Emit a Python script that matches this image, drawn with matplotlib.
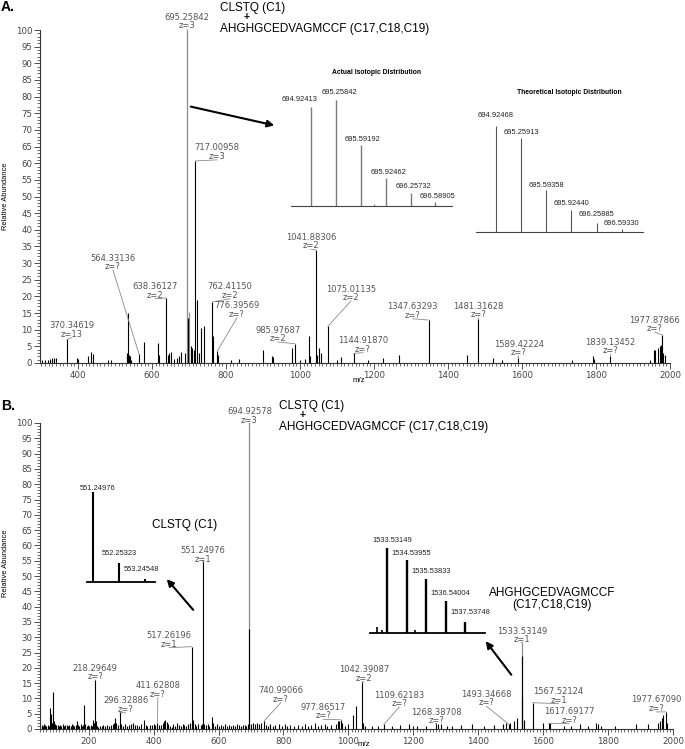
import matplotlib
matplotlib.use("Agg")
import matplotlib.pyplot as plt
import matplotlib.transforms as mtransforms
from matplotlib.patches import FancyArrowPatch
from matplotlib.ticker import MultipleLocator

W, H = 685, 749

# ---------------------------------------------------------------------------
# Panel A: full MS scan (m/z, relative abundance)
# ---------------------------------------------------------------------------
a_mz = [303, 311, 318, 324, 330, 336, 340, 370.35, 396, 400,
        428, 434, 441, 480, 489, 531, 533, 535, 537, 539,
        542, 564.33, 579, 617, 620, 638.36, 642, 645, 650, 660,
        667, 672, 678, 690, 697.8, 706, 709, 712, 717.01, 721,
        726, 731, 740, 762.41, 764, 776.40, 778, 813, 835, 900,
        925, 928, 977, 985.98, 1000, 1013, 1025, 1028, 1041.88, 1046,
        1050, 1057, 1075.01, 1099, 1112, 1144.92, 1184, 1225, 1268, 1347.63,
        1450, 1481.32, 1522, 1545, 1589.42, 1734, 1791, 1795, 1839.13, 1946,
        1956, 1960, 1968, 1972, 1975, 1977.88, 1981, 1986]
a_int = [1.0, 0.8, 1.0, 1.2, 1.5, 1.4, 1.6, 7.1, 1.5, 1.3,
         2.0, 3.3, 2.8, 1.0, 0.8, 2.0, 3.0, 15.0, 2.5, 2.0,
         1.0, 2.8, 6.2, 6.0, 2.5, 19.5, 2.5, 3.0, 3.2, 1.2,
         1.5, 2.0, 3.2, 3.0, 13.4, 5.0, 4.5, 4.0, 60.7, 18.9,
         3.0, 10.5, 11.0, 18.3, 8.0, 3.6, 2.5, 1.0, 1.2, 4.0,
         2.0, 1.8, 4.5, 5.8, 1.0, 1.2, 8.0, 2.0, 34.0, 2.5,
         4.5, 3.0, 11.0, 1.0, 1.7, 2.9, 1.0, 1.5, 2.3, 12.9,
         2.5, 13.1, 1.5, 1.0, 1.6, 1.0, 2.0, 1.3, 2.1, 1.0,
         4.0, 3.8, 4.5, 5.0, 5.5, 8.5, 3.0, 2.5]
a_gray_mz = [695.26, 700.5]
a_gray_int = [100, 15.4]

a_lab_mass = ["695.25842", "717.00958", "564.33136", "638.36127", "762.41150",
              "776.39569", "985.97687", "1041.88306", "1075.01135", "1144.91870",
              "1347.63293", "1481.31628", "1589.42224", "1839.13452", "1977.87866",
              "370.34619"]
a_lab_z = ["z=3", "z=3", "z=?", "z=2", "z=2", "z=?", "z=2", "z=2", "z=2", "z=?",
           "z=?", "z=?", "z=?", "z=?", "z=?", "z=13"]
a_lab_x = [694.3, 775.4, 494.3, 607.8, 810.5, 829.4, 940.2, 1029.4, 1137.5, 1170,
           1303.8, 1482.7, 1590.8, 1839.4, 1958.4, 382.7]
a_lab_y = [103.9, 64.6, 31.5, 22.9, 22.9, 17.2, 9.9, 37.7, 22.2, 6.7,
           16.9, 17.1, 5.7, 6.2, 12.9, 11.2]
a_lab_h = [100, 60.7, 2.8, 19.5, 18.3, 3.6, 5.8, 34.0, 11.0, 2.9,
           12.9, 13.1, 1.6, 2.1, 8.5, 7.1]

# isotopic distributions (inset A)
act_mz = [694.92413, 695.25842, 695.59192, 695.92462, 696.25732, 696.58905]
act_int = [93.4, 100, 57.5, 26.4, 12.3, 3.8]
theo_mz = [694.92468, 695.25913, 695.59358, 695.92440, 696.25885, 696.59330]
theo_int = [100, 88.7, 39.6, 20.8, 8.8, 2.8]

# ---------------------------------------------------------------------------
# Panel B
# ---------------------------------------------------------------------------
b_mz = [55, 58, 62, 66, 70, 74, 78, 81, 84, 87,
        90, 93, 96, 100, 104, 108, 112, 116, 120, 124,
        128, 132, 136, 140, 144, 148, 152, 156, 160, 163,
        167, 171, 175, 179, 183, 186, 190, 194, 198, 202,
        206, 210, 213, 215, 218.30, 221, 225, 230, 235, 240,
        245, 250, 256, 262, 268, 274, 279, 282, 285, 290,
        296.33, 299, 305, 312, 318, 325, 331, 337, 343, 349,
        355, 362, 369, 375, 381, 388, 394, 400, 405, 411.63,
        416, 422, 428, 433, 436, 440, 444, 450, 456, 461,
        467, 472, 478, 483, 489, 495, 500, 506, 512, 517.26,
        520, 526, 532, 538, 545, 549, 551.25, 554, 560, 566,
        572, 580, 584, 590, 596, 602, 608, 614, 620, 626,
        632, 638, 644, 650, 656, 662, 668, 674, 680, 686,
        690, 694.93, 700, 705, 712, 718, 724, 730, 740.99, 745,
        752, 760, 767, 775, 785, 795, 805, 812, 820, 832,
        845, 858, 866, 875, 885, 897, 906, 916, 928, 935,
        945, 962, 968, 972, 977.87, 980, 990, 1000, 1014, 1024,
        1042.39, 1045, 1052, 1072, 1090, 1109.62, 1135, 1160, 1186, 1200,
        1212, 1238, 1268.39, 1276, 1284, 1305, 1320, 1346, 1382, 1418,
        1450, 1475, 1487, 1493.35, 1497, 1510, 1520, 1533.53, 1535.5, 1541,
        1567.52, 1570, 1600, 1617.69, 1621, 1665, 1686, 1712, 1738, 1763,
        1768, 1778, 1820, 1887, 1922, 1955, 1960, 1965, 1970, 1977.67,
        1982]
b_int = [1.2, 1.0, 1.5, 1.2, 1.0, 1.3, 1.1, 7.0, 5.0, 2.0,
         12.0, 2.5, 1.5, 1.2, 1.4, 1.0, 1.3, 1.1, 1.5, 1.0,
         1.2, 1.4, 1.0, 1.3, 1.1, 1.6, 1.2, 1.0, 1.4, 2.5,
         1.2, 1.0, 1.5, 1.1, 1.3, 7.7, 1.5, 1.0, 1.2, 1.1,
         1.4, 1.0, 3.0, 2.0, 16.0, 2.5, 1.0, 0.8, 1.1, 0.9,
         1.2, 1.0, 1.3, 0.9, 1.4, 1.5, 2.0, 3.7, 2.0, 1.2,
         5.4, 1.5, 1.0, 1.5, 1.0, 1.3, 1.5, 2.0, 1.2, 1.4,
         1.1, 1.5, 3.0, 1.2, 1.0, 1.4, 1.2, 1.5, 1.3, 2.0,
         1.3, 1.2, 1.8, 2.5, 2.8, 2.2, 1.5, 1.0, 0.8, 1.5,
         1.0, 2.0, 1.2, 1.0, 1.5, 1.2, 1.0, 1.5, 2.0, 26.9,
         3.0, 1.5, 1.0, 1.5, 1.2, 1.5, 55.0, 1.5, 1.2, 1.5,
         1.0, 3.8, 2.0, 1.0, 1.5, 1.0, 1.3, 1.0, 1.5, 1.0,
         1.4, 1.1, 1.3, 1.0, 1.5, 1.2, 1.0, 1.4, 1.2, 1.0,
         1.5, 32.7, 1.5, 2.0, 1.5, 2.0, 1.5, 1.8, 2.7, 1.2,
         1.0, 1.5, 1.0, 1.2, 1.5, 1.0, 1.5, 1.0, 1.2, 1.0,
         1.2, 1.0, 1.5, 1.0, 1.2, 2.0, 1.0, 1.2, 1.5, 1.0,
         1.2, 1.5, 2.5, 2.5, 3.0, 2.0, 1.0, 1.5, 4.5, 7.4,
         15.5, 2.0, 1.0, 1.0, 1.0, 1.5, 1.0, 1.2, 1.5, 1.0,
         1.0, 1.0, 1.9, 1.5, 1.5, 1.0, 1.0, 1.2, 1.5, 1.0,
         1.2, 1.5, 2.0, 1.6, 2.0, 2.5, 3.5, 24.0, 10.2, 3.0,
         8.6, 2.0, 2.0, 1.8, 2.0, 1.0, 1.0, 1.5, 1.0, 2.0,
         1.5, 1.0, 1.0, 1.5, 1.5, 2.0, 2.5, 3.5, 4.5, 5.6,
         2.0]
b_gray_mz = [694.93, 1533.53]
b_gray_int = [100, 28.4]

b_lab_mass = ["694.92578", "551.24976", "517.26196", "218.29649", "296.32886",
              "411.62808", "740.99066", "977.86517", "1042.39087", "1109.62183",
              "1268.38708", "1493.34668", "1533.53149", "1567.52124", "1617.69177",
              "1977.67090"]
b_lab_z = ["z=3", "z=1", "z=1", "z=?", "z=?", "z=?", "z=?", "z=?", "z=2", "z=?",
           "z=?", "z=?", "z=1", "z=1", "z=?", "z=?"]
b_lab_x = [695.0, 552.6, 447.9, 219.9, 314.1, 413.0, 791.4, 922.7, 1047.8, 1156.9,
           1271.2, 1425.7, 1535.0, 1647.2, 1680.2, 1948.9]
b_lab_y = [103.7, 58.2, 30.5, 19.8, 9.2, 14.1, 12.5, 7.1, 19.3, 11.1,
           5.5, 11.3, 32.0, 12.2, 5.7, 9.5]
b_lab_h = [100, 55.0, 26.9, 16.0, 5.4, 2.0, 2.7, 3.0, 15.5, 1.5,
           1.9, 1.6, 28.4, 8.6, 1.8, 5.6]

# isotope clusters (insets B)
clstq_mz = [551.24976, 552.25323, 553.24548]
clstq_int = [100, 21, 3.7]
ahg_mz = [1533.53149, 1534.53955, 1535.53833, 1536.54004, 1537.53748]
ahg_int = [100, 85.8, 63, 37.4, 13]
ahg_small_mz = [1533.03, 1533.26, 1534.97]
ahg_small_int = [7, 3, 3.5]

LBL = "#555555"
LEAD = "#8a8a8a"
SANS = ["Liberation Sans", "DejaVu Sans"]

fig = plt.figure(figsize=(W / 100, H / 100), dpi=100)


def px_rect(x0, y0, x1, y1):
    return [x0 / W, 1 - y1 / H, (x1 - x0) / W, (y1 - y0) / H]


def ftext(x, y, s, **kw):
    fig.text(x / W, 1 - y / H, s, **kw)


def arrow(x0, y0, x1, y1):
    fig.add_artist(FancyArrowPatch((x0 / W, 1 - y0 / H), (x1 / W, 1 - y1 / H),
                                   transform=fig.transFigure, arrowstyle="-|>",
                                   mutation_scale=10, lw=1.5, color="black"))


def spectrum_axes(rect, xlim):
    ax = fig.add_axes(rect)
    ax.set_xlim(*xlim)
    ax.set_ylim(0, 100)
    for s in ["top", "right"]:
        ax.spines[s].set_visible(False)
    for s in ["left", "bottom"]:
        ax.spines[s].set_color("#333333")
        ax.spines[s].set_linewidth(0.8)
    ax.yaxis.set_major_locator(MultipleLocator(5))
    ax.yaxis.set_minor_locator(MultipleLocator(1))
    ax.xaxis.set_major_locator(MultipleLocator(200))
    ax.xaxis.set_minor_locator(MultipleLocator(10))
    ax.tick_params(which="major", length=4, width=0.6, color="#333333",
                   labelsize=6.2, labelcolor="#444444", pad=1.5)
    ax.tick_params(which="minor", length=2, width=0.5, color="#333333")
    return ax


def label_peaks(ax, masses, zs, lx, ly, lh):
    zt = mtransforms.offset_copy(ax.transData, fig=fig, y=-8.5, units="dots")
    for m, z, x, y, h in zip(masses, zs, lx, ly, lh):
        ax.text(x, y, m, ha="center", va="center", fontsize=6.0, color=LBL,
                clip_on=False)
        ax.text(x, y, z, ha="center", va="center", fontsize=6.0, color=LBL,
                transform=zt, clip_on=False)
        dx, dy = ax.transData.transform((x, y))
        sx, sy = ax.transData.inverted().transform((dx, dy - 12))
        ax.plot([sx, float(m)], [sy, h], color=LEAD, lw=0.6, clip_on=False)


def inset(rect, xlim, mz, inten, color, lw, base_lw, base_color):
    ax = fig.add_axes(rect)
    ax.set_xlim(*xlim)
    ax.set_ylim(0, 100)
    ax.patch.set_alpha(0)
    for s in ["top", "right", "left"]:
        ax.spines[s].set_visible(False)
    ax.spines["bottom"].set_linewidth(base_lw)
    ax.spines["bottom"].set_color(base_color)
    ax.set_xticks([])
    ax.set_yticks([])
    ax.vlines(mz, 0, inten, color=color, lw=lw)
    return ax


def inset_labels(ax, mz, inten, dxs, dys):
    for m, h, dx, dy in zip(mz, inten, dxs, dys):
        ax.annotate(f"{m:.5f}", (m, h), xytext=(dx * 0.72, dy * 0.72),
                    textcoords="offset points", ha="center", va="center",
                    fontsize=5.4, family=SANS, color="#222222",
                    annotation_clip=False)


# ---------------- Panel A ----------------
axA = spectrum_axes(px_rect(40, 30, 670, 363), (297, 2000))
axA.vlines(a_gray_mz, 0, a_gray_int, color="#8c8c8c", lw=0.9)
axA.vlines(a_mz, 0, a_int, color="black", lw=0.8)
label_peaks(axA, a_lab_mass, a_lab_z, a_lab_x, a_lab_y, a_lab_h)

insA1 = inset(px_rect(291, 100, 452, 206), (694.66, 696.81), act_mz, act_int,
              "#7a7a7a", 1.0, 0.8, "#444444")
insA1.vlines([695.77], 0, [2.0], color="#7a7a7a", lw=0.8)
inset_labels(insA1, act_mz, act_int, [-11, 4, 2, 3, 3, 2], [7, 7, 6, 6, 6, 5])

insA2 = inset(px_rect(476, 126, 643, 232), (694.664, 696.873), theo_mz, theo_int,
              "#555555", 0.8, 0.8, "#444444")
inset_labels(insA2, theo_mz, theo_int, [0] * 6, [10, 5, 5, 6, 8, 6])

ftext(376, 72, "Actual Isotopic Distribution", ha="center", va="center",
      fontsize=4.9, fontweight="bold", family=SANS)
ftext(569, 92, "Theoretical Isotopic Distribution", ha="center", va="center",
      fontsize=4.9, fontweight="bold", family=SANS)
arrow(188, 106, 277, 126)

ftext(1, 7, "A.", ha="left", va="center", fontsize=10, fontweight="bold", family=SANS)
ftext(220, 7.5, "CLSTQ (C1)", ha="left", va="center", fontsize=8.5, family=SANS)
ftext(247, 17, "+", ha="center", va="center", fontsize=7.5, fontweight="bold", family=SANS)
ftext(220, 29, "AHGHGCEDVAGMCCF (C17,C18,C19)", ha="left", va="center",
      fontsize=8.5, family=SANS)
ftext(6, 196, "Relative Abundance", rotation=90, ha="center", va="center",
      fontsize=5.4, family=SANS)
ftext(359, 381, "m/z", ha="center", va="center", fontsize=5.6, family=SANS)

# ---------------- Panel B ----------------
axB = spectrum_axes(px_rect(40, 423, 673, 729), (50, 2000))
axB.vlines(b_gray_mz, 0, b_gray_int, color="#8c8c8c", lw=0.9)
axB.vlines(b_mz, 0, b_int, color="black", lw=0.8)
label_peaks(axB, b_lab_mass, b_lab_z, b_lab_x, b_lab_y, b_lab_h)

insB1 = inset(px_rect(87, 492, 155, 582), (551.02, 553.63), clstq_mz, clstq_int,
              "black", 1.5, 1.3, "black")
inset_labels(insB1, clstq_mz, clstq_int, [5, 0, -3], [4, 10, 9])

insB2 = inset(px_rect(370, 548, 485, 632.7), (1532.66, 1538.56), ahg_mz, ahg_int,
              "black", 1.7, 1.3, "black")
insB2.vlines(ahg_small_mz, 0, ahg_small_int, color="black", lw=1.2)
inset_labels(insB2, ahg_mz, ahg_int, [5] * 5, [8, 7, 8, 8, 9])

ftext(185, 525, "CLSTQ (C1)", ha="center", va="center", fontsize=8.5, family=SANS)
ftext(552, 599, "AHGHGCEDVAGMCCF\n(C17,C18,C19)", ha="center", va="center",
      fontsize=8.5, family=SANS, linespacing=1.1)
arrow(195, 612, 165, 577)
arrow(513, 677, 484, 639)

ftext(1, 406, "B.", ha="left", va="center", fontsize=10, fontweight="bold", family=SANS)
ftext(279, 405.5, "CLSTQ (C1)", ha="left", va="center", fontsize=8.5, family=SANS)
ftext(303, 415, "+", ha="center", va="center", fontsize=7.5, fontweight="bold", family=SANS)
ftext(279, 427.5, "AHGHGCEDVAGMCCF (C17,C18,C19)", ha="left", va="center",
      fontsize=8.5, family=SANS)
ftext(6, 563, "Relative Abundance", rotation=90, ha="center", va="center",
      fontsize=5.4, family=SANS)
ftext(364, 745, "m/z", ha="center", va="center", fontsize=5.6, family=SANS)

fig.savefig("out.png", dpi=100)
